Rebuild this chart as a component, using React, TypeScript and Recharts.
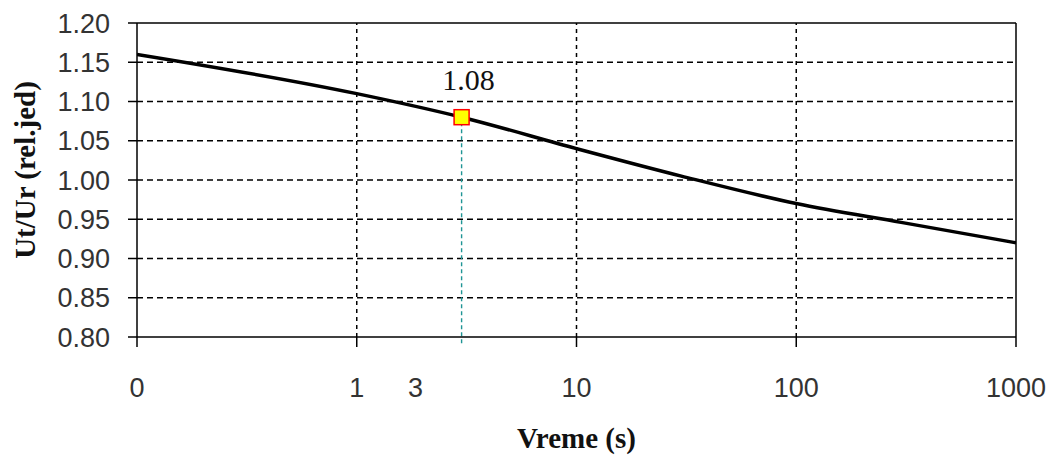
import React from "react";
import {
  ComposedChart,
  Line,
  XAxis,
  YAxis,
  ReferenceLine,
} from "recharts";

// time (s) and voltage ratio
const times = [0, 1, 3, 10, 30, 100, 300, 1000];
const ratio = [1.16, 1.11, 1.08, 1.04, 1.005, 0.97, 0.946, 0.92];

// highlighted point
const markTime = 3;
const markValue = 1.08;

const xTicks = [0, 1, 2, 3, 4];
const xTickLabels = ["0", "1", "10", "100", "1000"];
const yTicks = [0.8, 0.85, 0.9, 0.95, 1.0, 1.05, 1.1, 1.15, 1.2];
const gridY = [0.85, 0.9, 0.95, 1.0, 1.05, 1.1, 1.15];
const gridX = [1, 2, 3];

// axis is linear from 0 to 1 s, then one decade per step
function toAxis(t: number): number {
  return t <= 1 ? t : 1 + Math.log10(t);
}

const curve = times.map((t, i) => ({ x: toAxis(t), u: ratio[i] }));
const markData = [{ x: toAxis(markTime), u: markValue }];

const tickFont = {
  fontFamily: "'Liberation Sans', Arial, sans-serif",
  fontSize: 27,
  fill: "#333",
};

const titleFont = {
  fontFamily: "'Liberation Serif', 'Times New Roman', serif",
  fontWeight: "bold",
  fontSize: 29,
  fill: "#111",
};

function MarkDot(props: any) {
  const { cx, cy, payload } = props;
  if (cx == null || cy == null) return null;
  return (
    <g key="mark">
      <rect x={cx - 7.5} y={cy - 7.5} width={15} height={15} fill="#ffff00" stroke="#ff0000" strokeWidth={1.5} />
      <text
        x={cx + 7}
        y={cy - 27}
        textAnchor="middle"
        fontFamily="'Liberation Serif', 'Times New Roman', serif"
        fontSize={30}
        fill="#111"
      >
        {payload.u.toFixed(2)}
      </text>
    </g>
  );
}

export default function App() {
  return (
    <div style={{ position: "absolute", left: 0, top: 0, width: 1048, height: 458, background: "#fff" }}>
      <ComposedChart
        width={1048}
        height={458}
        data={curve}
        margin={{ top: 23, right: 32, left: 0, bottom: 0 }}
      >
        <XAxis
          dataKey="x"
          type="number"
          domain={[0, 4]}
          ticks={xTicks}
          tickFormatter={(v) => xTickLabels[v] ?? ""}
          height={121}
          tickSize={10}
          tickMargin={31}
          stroke="#000"
          strokeWidth={1.5}
          tick={tickFont}
          allowDataOverflow
          label={{
            content: (p: any) => {
              const vb = p.viewBox;
              return (
                <text x={vb.x + vb.width / 2} y={vb.y + 111} textAnchor="middle" {...titleFont}>
                  Vreme (s)
                </text>
              );
            },
          }}
        />
        <YAxis
          type="number"
          domain={[0.8, 1.2]}
          ticks={yTicks}
          tickFormatter={(v) => v.toFixed(2)}
          width={137}
          tickSize={9}
          tickMargin={18}
          stroke="#000"
          strokeWidth={1.5}
          tick={tickFont}
          allowDataOverflow
          label={{
            content: (p: any) => {
              const vb = p.viewBox;
              const cx = vb.x + 25;
              const cy = vb.y + vb.height / 2 - 10;
              return (
                <text
                  x={cx}
                  y={cy}
                  transform={`rotate(-90, ${cx}, ${cy})`}
                  textAnchor="middle"
                  dominantBaseline="central"
                  {...titleFont}
                >
                  Ut/Ur (rel.jed)
                </text>
              );
            },
          }}
        />
        {gridY.map((y) => (
          <ReferenceLine key={"gy" + y} y={y} stroke="#000" strokeWidth={1.5} strokeDasharray="6 4" />
        ))}
        {gridX.map((x) => (
          <ReferenceLine key={"gx" + x} x={x} stroke="#000" strokeWidth={1.5} strokeDasharray="4 4" />
        ))}
        <ReferenceLine y={1.2} stroke="#000" strokeWidth={1.5} />
        <ReferenceLine x={4} stroke="#000" strokeWidth={1.5} />
        <ReferenceLine
          segment={[
            { x: toAxis(markTime), y: 0.792 },
            { x: toAxis(markTime), y: markValue },
          ]}
          ifOverflow="visible"
          stroke="#1f9595"
          strokeWidth={1.4}
          strokeDasharray="4 3"
          label={{
            content: (p: any) => {
              const vb = p.viewBox;
              if (!vb) return null;
              return (
                <text x={vb.x - 46} y={vb.y + vb.height + 54} textAnchor="middle" {...tickFont}>
                  {String(markTime)}
                </text>
              );
            },
          }}
        />
        <Line
          type="monotone"
          dataKey="u"
          stroke="#000"
          strokeWidth={3.5}
          dot={false}
          isAnimationActive={false}
        />
        <Line
          data={markData}
          dataKey="u"
          stroke="none"
          dot={<MarkDot />}
          isAnimationActive={false}
        />
      </ComposedChart>
    </div>
  );
}
